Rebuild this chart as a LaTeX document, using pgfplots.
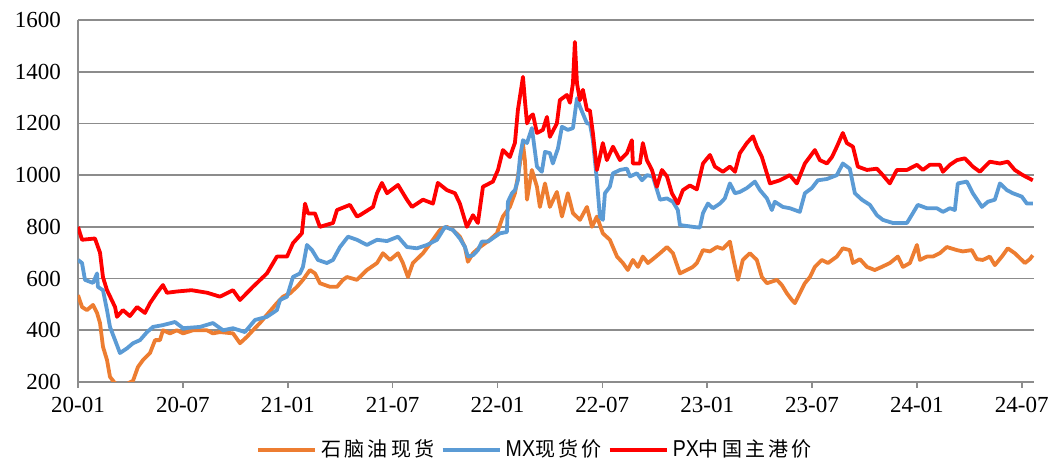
\documentclass[border=0pt]{standalone}
\usepackage{pgfplots}
\pgfplotsset{compat=1.18}
\usepackage{fontspec}
\setmainfont{Liberation Serif}
\newfontfamily\tnr{Liberation Serif}
\newfontfamily\cjk[LetterSpace=16]{Noto Sans CJK SC}
\newfontfamily\lat[FakeStretch=0.85]{Liberation Sans}

\definecolor{naph}{HTML}{ED7D31}
\definecolor{mx}{HTML}{5B9BD5}
\definecolor{px}{HTML}{FF0000}
\definecolor{gridc}{HTML}{8C8C8C}

\begin{document}
\begin{tikzpicture}
\begin{axis}[
    scale only axis,
    width=478pt, height=181pt,
    xmin=0, xmax=54.7,
    ymin=200, ymax=1600,
    ytick={200,400,...,1600},
    xtick={0,6,...,54},
    xticklabels={20-01,20-07,21-01,21-07,22-01,22-07,23-01,23-07,24-01,24-07},
    /pgf/number format/assume math mode=true,
    /pgf/number format/1000 sep={},
    axis x line*=bottom, axis y line*=left,
    axis line style={gridc, line width=0.8pt, -},
    ymajorgrids, grid style={gridc, line width=0.8pt},
    ytick style={draw=none},
    xtick style={gridc, line width=0.8pt},
    tick align=outside, major tick length=3pt,
    tick label style={font=\tnr\fontsize{11.5}{13}\selectfont},
    yticklabel style={xshift=-2pt},
    xticklabel style={yshift=-1pt},
    legend style={at={(0.479,-0.188)}, anchor=center, draw=none,
        legend columns=3, font=\cjk\fontsize{10}{12}\selectfont,
        /tikz/every even column/.append style={column sep=1pt}},
    legend image code/.code={\draw[#1, line width=2.2pt] (0pt,0pt) -- (28.5pt,0pt);},
    every axis plot/.append style={line width=1.9pt, line join=round},
]
\coordinate (sw) at (rel axis cs:0,0);
\coordinate (ne) at (rel axis cs:1,1);

% naphtha spot
\addplot[naph] coordinates {
(0,536) (0.23,490) (0.51,478) (0.86,498) (1.09,467) (1.26,428) (1.43,336) (1.66,285)
(1.83,220) (2.12,195) (2.6,185) (3.15,205) (3.43,258) (3.72,285) (4.12,312) (4.41,362)
(4.69,362) (4.86,400) (5.26,388) (5.66,400) (6.01,388) (6.58,400) (7.38,400) (7.72,388)
(8.12,393) (8.87,388) (9.27,350) (9.67,375) (10.01,400) (10.41,428) (10.81,460) (11.38,505)
(11.73,530) (12.13,543) (12.53,568) (12.87,595) (13.27,633) (13.56,620) (13.84,582) (14.42,568)
(14.82,568) (15.16,595) (15.39,606) (15.96,595) (16.53,633) (17.11,660) (17.45,698) (17.85,672)
(18.31,698) (18.59,660) (18.88,606) (19.16,660) (19.74,698) (20.31,750) (20.71,788) (21.11,800)
(21.45,788) (21.85,762) (22.14,722) (22.31,665) (22.60,698) (23.00,722) (23.57,750) (23.97,775)
(24.31,840) (24.71,877) (25.00,930) (25.17,995) (25.46,1120) (25.57,1058) (25.69,905) (25.97,1020)
(26.26,955) (26.43,877) (26.72,968) (27.00,877) (27.40,935) (27.69,840) (28.03,930) (28.32,853)
(28.72,827) (29.12,877) (29.41,800) (29.69,840) (30.03,775) (30.43,750) (30.84,685) (31.18,660)
(31.46,633) (31.75,672) (32.04,645) (32.32,685) (32.61,660) (32.89,675) (33.30,698) (33.70,722)
(34.04,698) (34.44,620) (34.84,633) (35.18,645) (35.41,660) (35.76,710) (36.16,705) (36.56,722)
(36.90,715) (37.30,743) (37.47,685) (37.76,595) (38.04,672) (38.44,698) (38.84,672) (39.13,606)
(39.42,582) (39.99,595) (40.27,575) (40.56,543) (40.85,517) (41.02,505) (41.30,543) (41.59,582)
(41.88,606) (42.16,645) (42.56,672) (42.91,660) (43.42,685) (43.76,717) (44.16,710) (44.34,660)
(44.74,675) (45.14,645) (45.59,633) (45.99,645) (46.45,660) (46.91,685) (47.20,645) (47.60,660)
(48.00,730) (48.17,672) (48.57,685) (48.91,685) (49.31,698) (49.71,722) (50.29,710) (50.63,705)
(51.14,710) (51.43,675) (51.77,672) (52.17,685) (52.46,652) (52.86,685) (53.20,717) (53.60,698)
(54.00,672) (54.18,660) (54.46,675) (54.63,690)
};
\addlegendentry{石脑油现货}

% MX spot
\addplot[mx] coordinates {
(0,672) (0.23,660) (0.40,595) (0.86,583) (1.09,620) (1.14,568) (1.43,555) (1.66,478)
(1.83,413) (2.12,362) (2.40,312) (2.80,330) (3.15,350) (3.55,362) (3.95,393) (4.29,413)
(4.86,420) (5.55,432) (6.01,408) (6.98,413) (7.72,428) (8.30,400) (8.87,408) (9.55,393)
(10.13,440) (10.81,452) (11.38,478) (11.56,517) (11.96,530) (12.30,606) (12.70,620) (12.87,645)
(13.10,730) (13.39,710) (13.73,672) (14.24,660) (14.59,672) (14.99,722) (15.45,762) (15.96,750)
(16.53,730) (17.11,750) (17.68,745) (18.31,762) (18.82,722) (19.39,717) (19.97,730) (20.54,750)
(21.00,800) (21.45,788) (21.85,755) (22.14,722) (22.31,685) (22.60,690) (22.88,710) (23.11,743)
(23.46,743) (23.86,762) (24.14,775) (24.54,780) (24.60,897) (24.83,930) (25.00,942) (25.17,980)
(25.29,1070) (25.46,1135) (25.69,1124) (25.97,1182) (26.26,1033) (26.54,1013) (26.72,1090) (27.00,1085)
(27.17,1045) (27.46,1103) (27.69,1187) (28.03,1175) (28.32,1182) (28.55,1297) (28.72,1265) (29.12,1200)
(29.29,1200) (29.46,1135) (29.69,980) (29.86,840) (30.03,827) (30.15,930) (30.43,955) (30.61,1007)
(31.01,1020) (31.41,1025) (31.58,995) (31.98,1007) (32.27,980) (32.55,1000) (32.89,995) (33.30,905)
(33.70,910) (34.04,897) (34.32,865) (34.44,807) (35.18,800) (35.58,797) (35.76,853) (36.04,890)
(36.33,872) (36.73,890) (37.01,910) (37.30,968) (37.59,930) (37.87,935) (38.27,950) (38.73,975)
(39.02,942) (39.42,910) (39.70,865) (39.87,897) (40.33,877) (40.73,872) (41.30,858) (41.59,930)
(41.99,950) (42.33,980) (42.85,985) (43.42,1000) (43.76,1045) (44.16,1025) (44.45,930) (44.85,905)
(45.31,885) (45.71,845) (46.05,827) (46.62,815) (47.43,815) (47.77,853) (48.05,885) (48.57,872)
(49.14,872) (49.49,858) (49.89,872) (50.17,865) (50.34,968) (50.86,975) (51.20,930) (51.72,877)
(52.06,897) (52.46,905) (52.75,968) (53.15,942) (53.49,930) (54.00,917) (54.29,890) (54.63,890)
};
\addlegendentry{{\lat\fontsize{11.5}{12}\selectfont MX}现货价}

% PX China main port
\addplot[px] coordinates {
(0,800) (0.23,750) (0.97,755) (1.26,700) (1.43,605) (1.66,555) (2.12,490) (2.23,452)
(2.57,478) (2.97,455) (3.38,490) (3.83,467) (4.12,505) (4.52,545) (4.86,575) (5.09,545)
(5.66,550) (6.5,555) (7.4,545) (8.12,530) (8.87,555) (9.27,517) (10.01,568) (10.81,620)
(11.38,685) (11.96,685) (12.30,737) (12.81,775) (12.99,890) (13.16,852) (13.56,852) (13.84,800)
(14.59,815) (14.82,865) (15.56,885) (15.96,840) (16.13,845) (16.88,877) (17.11,930) (17.39,970)
(17.68,930) (18.31,962) (18.82,905) (19.11,877) (19.74,905) (20.31,890) (20.59,970) (21.11,942)
(21.57,930) (21.85,890) (22.25,800) (22.60,845) (22.88,815) (23.17,955) (23.74,975) (24.03,1020)
(24.31,1097) (24.71,1070) (25.00,1125) (25.17,1252) (25.46,1380) (25.57,1290) (25.69,1200) (25.86,1225)
(26.03,1235) (26.26,1163) (26.60,1175) (26.83,1225) (27.00,1148) (27.40,1200) (27.57,1290) (27.97,1310)
(28.15,1280) (28.32,1355) (28.43,1515) (28.55,1355) (28.72,1290) (28.89,1330) (29.12,1252) (29.29,1250)
(29.46,1163) (29.69,1020) (29.86,1070) (30.03,1124) (30.26,1058) (30.61,1110) (31.01,1058) (31.41,1085)
(31.69,1135) (31.75,1045) (32.15,1045) (32.32,1124) (32.55,1058) (32.84,1020) (33.12,955) (33.41,1020)
(33.70,995) (33.98,930) (34.32,890) (34.61,942) (35.01,960) (35.41,945) (35.76,1045) (36.16,1078)
(36.44,1033) (36.90,1013) (37.30,1033) (37.59,1013) (37.87,1085) (38.27,1124) (38.62,1150) (38.84,1110)
(39.13,1070) (39.59,968) (40.16,980) (40.73,1000) (41.13,968) (41.59,1045) (42.16,1097) (42.45,1058)
(42.85,1045) (43.14,1070) (43.42,1110) (43.76,1163) (43.99,1124) (44.34,1110) (44.62,1033) (45.14,1020)
(45.71,1025) (46.05,1000) (46.45,968) (46.85,1020) (47.43,1020) (48.00,1040) (48.34,1020) (48.74,1040)
(49.31,1040) (49.49,1013) (49.89,1040) (50.29,1058) (50.74,1065) (51.20,1033) (51.60,1013) (52.17,1052)
(52.75,1045) (53.20,1052) (53.60,1020) (54.06,1000) (54.63,980)
};
\addlegendentry{{\lat\fontsize{11.5}{12}\selectfont PX}中国主港价}
\end{axis}
\pgfresetboundingbox
\path ([shift={(-39pt,-40.5pt)}]sw) rectangle ([shift={(10pt,10pt)}]ne);
\end{tikzpicture}
\end{document}
